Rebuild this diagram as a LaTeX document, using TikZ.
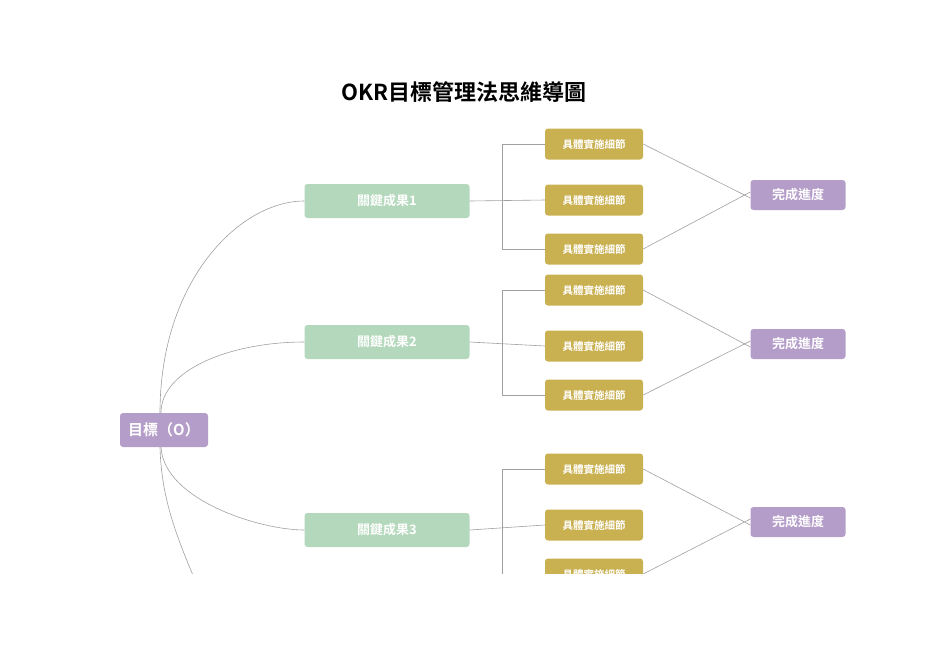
\documentclass[tikz,border=0pt]{standalone}
\usepackage{fontspec}
\newfontfamily\cjk{Noto Sans CJK TC}[BoldFont={Noto Sans CJK TC Bold}]
\definecolor{obj}{HTML}{B49DC8}
\definecolor{kr}{HTML}{B3D8BB}
\definecolor{det}{HTML}{C9B050}
\definecolor{wire}{HTML}{A0A0A0}
\tikzset{
  box/.style={rounded corners=3pt, text=white, font=\cjk\bfseries, inner sep=0pt},
  root/.style={box, fill=obj, minimum width=88pt, minimum height=34pt, font=\cjk\bfseries\fontsize{15}{15}\selectfont},
  result/.style={box, fill=kr, minimum width=165pt, minimum height=34pt, font=\cjk\bfseries\fontsize{13}{13}\selectfont},
  detail/.style={box, fill=det, minimum width=98pt, minimum height=31pt, font=\cjk\bfseries\fontsize{10.5}{10.5}\selectfont},
  progress/.style={box, fill=obj, minimum width=95pt, minimum height=30pt, font=\cjk\bfseries\fontsize{13}{13}\selectfont},
  wire/.style={draw=wire, line width=0.6pt}
}
\begin{document}
\begin{tikzpicture}[x=1pt, y=-1pt]
  \useasboundingbox (0,0) rectangle (936,662);
  \node[font=\cjk\bfseries\fontsize{22}{22}\selectfont] (T) at (464,92) {OKR目標管理法思維導圖};
  \clip (0,0) rectangle (936,573);

  \node[root] (O) at (164,430) {目標（O）};
  \node[result] (K1) at (387,201) {關鍵成果1};
  \node[result] (K2) at (387,342) {關鍵成果2};
  \node[result] (K3) at (387,530) {關鍵成果3};
  \coordinate (K4) at (260,720);

  \node[progress] (P1) at (798,195) {完成進度};
  \node[progress] (P2) at (798,344) {完成進度};
  \node[progress] (P3) at (798,522) {完成進度};

  \foreach \k/\ya/\yb/\yc in {1/144/200/249, 2/290/346/395, 3/469/525/574} {
    \node[detail] (D\k a) at (594,\ya) {具體實施細節};
    \node[detail] (D\k b) at (594,\yb) {具體實施細節};
    \node[detail] (D\k c) at (594,\yc) {具體實施細節};
    \coordinate (B\k) at (502,\yb);
    \draw[wire] (K\k.east) -- (D\k b.west);
    \draw[wire] (D\k a.west) -- (D\k a.west -| B\k) -- (D\k c.west -| B\k) -- (D\k c.west);
    \draw[wire] (D\k a.east) -- ([yshift=-3pt]P\k.west);
    \draw[wire] (D\k c.east) -- ([yshift=3pt]P\k.west);
  }

  \draw[wire] ([xshift=-4pt]O.north) .. controls (160,280) and (240,201) .. (K1.west);
  \draw[wire] ([xshift=-3pt]O.north) .. controls (161,370) and (230,342) .. (K2.west);
  \draw[wire] ([xshift=-3pt]O.south) .. controls (164,500) and (260,530) .. (K3.west);
  \draw[wire] ([xshift=-4pt]O.south) .. controls (162,520) and (190,570) .. (K4);
\end{tikzpicture}
\end{document}
